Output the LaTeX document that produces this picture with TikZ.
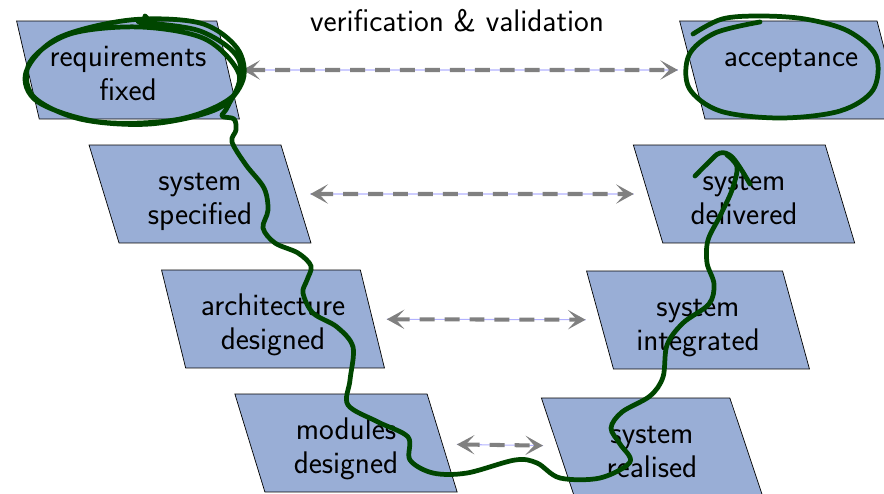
\documentclass[tikz,border=0pt]{standalone}
\usepackage{tikz}
\usetikzlibrary{shapes.geometric,arrows.meta}
\definecolor{boxblue}{RGB}{153,174,214}
\definecolor{pen}{RGB}{0,70,0}
% two centred lines, set a little below the middle of the box
\newcommand{\stage}[2]{\raisebox{-0.13cm}[\height][\depth]{\begin{tabular}{@{}c@{}}#1\\#2\end{tabular}}}

\begin{document}
\begin{tikzpicture}[x=0.02cm,y=-0.02cm,
		box/.style={trapezium, trapezium left angle=105, trapezium right angle=75,
			trapezium stretches=true, draw=black, fill=boxblue,
			minimum width=4.46cm, minimum height=1.96cm,
			font=\sffamily\fontsize{17.8}{19.5}\selectfont},
		vv/.style={{Stealth[length=10pt,width=11pt,inset=5pt]}-{Stealth[length=10pt,width=11pt,inset=5pt]},
			draw=gray, dash pattern=on 8.5pt off 5.7pt, line width=2.3pt,
			shorten <=0.28cm, shorten >=0.28cm,
			preaction={draw=blue!30, solid, line width=0.6pt, -}},
		ink/.style={draw=pen, line width=2.7pt, line cap=round, line join=round}]
	\useasboundingbox (0,0) rectangle (884,493);

	% left leg
	\node[box] at (128,70) (req) {\stage{requirements}{fixed}};
	\node[box] at (200,194) (spec) {\stage{system}{specified}};
	\node[box] at (273,319) (arch) {\stage{architecture}{designed}};
	\node[box] at (346,443) (mod) {\stage{modules}{designed}};
	% right leg
	\node[box] at (791,70) (acc) {\stage{acceptance}{\mbox{}}};
	\node[box] at (744,194) (deliv) {\stage{system}{delivered}};
	\node[box] at (698,320) (integ) {\stage{system}{integrated}};
	\node[box] at (652,447) (real) {\stage{system}{realised}};

	\node[font=\sffamily\fontsize{17.8}{19.5}\selectfont] at (457,21) (title) {verification \& validation};

	\draw[vv] (req) -- (acc);
	\draw[vv] (spec) -- (deliv);
	\draw[vv] (arch) -- (integ);
	\draw[vv] (mod) -- (real);

	% scribbles on top
	\draw[ink] plot[smooth, tension=0.55] coordinates {
		(145,16) (150,22) (140,22) (200,31) (238,58) (234,95) (180,119) (100,122)
		(38,102) (26,72) (58,38) (130,20) (200,23) (237,48) (243,80) (217,109)
		(150,124) (80,119) (33,96) (30,62) (70,34) (140,27) (205,39) (239,74)
		(228,106) (222,116) (234,119) (236,130) (232,142) (246,165) (264,188)
		(268,210) (263,228) (275,243) (298,253) (311,266) (307,280) (303,293)
		(313,313) (337,327) (353,347) (350,380) (348,405) (378,422) (408,437)
		(410,460) (433,473) (467,473) (515,460) (537,463) (560,478) (600,478)
		(630,462) (620,444) (611,428) (622,412) (650,396) (663,377) (667,345)
		(683,323) (709,304) (714,284) (707,263) (708,240) (720,216) (732,190)
		(737,167) (727,155)};
	\draw[ink] plot[smooth, tension=0.6] coordinates {
		(695,176) (708,163) (720,153) (733,158) (750,184)};
	\draw[ink] plot[smooth, tension=0.55] coordinates {
		(693,34) (722,19) (760,16) (805,19) (848,31) (876,56) (873,90) (840,111)
		(780,118) (720,111) (689,88) (689,55) (715,33) (760,22)};
\end{tikzpicture}
\end{document}
